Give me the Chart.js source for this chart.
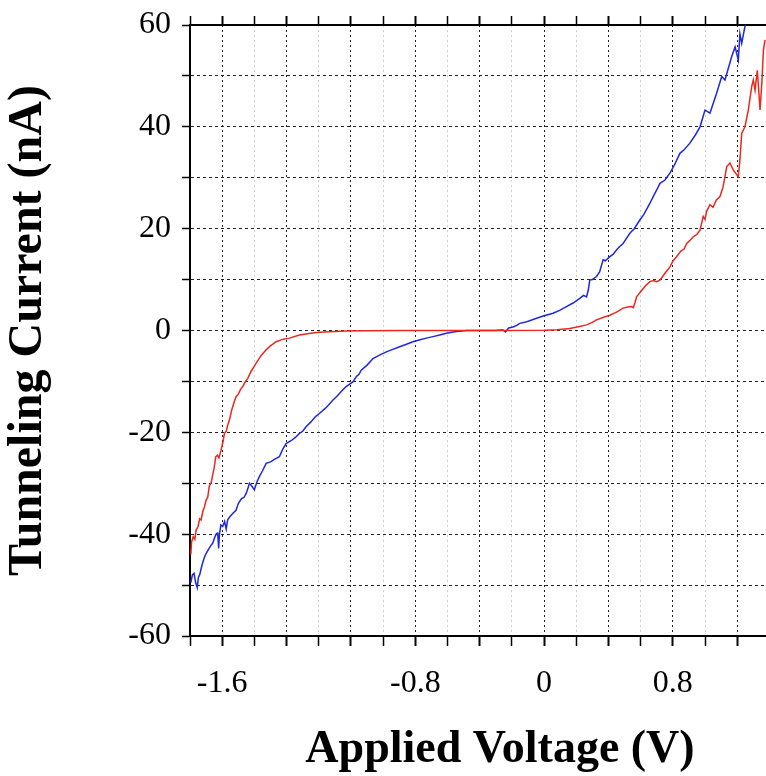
<!DOCTYPE html>
<html>
<head>
<meta charset="utf-8">
<script src="https://cdn.jsdelivr.net/npm/chart.js@4"></script>
<style>
  body { margin: 0; background: #fff; }
</style>
</head>
<body>
<canvas id="myChart" width="766" height="776"></canvas>
<script>
// Red sweep: voltage (V) and current (nA)
var redV = [-2.195, -2.19, -2.18, -2.17, -2.162, -2.15, -2.14, -2.131, -2.12, -2.11, -2.10, -2.09, -2.08, -2.069, -2.06, -2.05, -2.04, -2.03, -2.02, -2.007,
  -1.996, -1.986, -1.975, -1.965, -1.955, -1.94, -1.925, -1.914, -1.90, -1.885, -1.872, -1.855, -1.841, -1.82, -1.80, -1.789, -1.76, -1.727, -1.70, -1.665,
  -1.62, -1.582, -1.52, -1.45, -1.396, -1.30, -1.23, -1.10, -0.9, -0.3, 0.0, 0.08, 0.16, 0.22, 0.264, 0.30, 0.326, 0.37, 0.409, 0.45,
  0.491, 0.52, 0.544, 0.555, 0.565, 0.575, 0.60, 0.63, 0.658, 0.68, 0.70, 0.72, 0.75, 0.782, 0.80, 0.823, 0.85, 0.87, 0.886, 0.90,
  0.927, 0.95, 0.969, 0.989, 1.0, 1.01, 1.031, 1.05, 1.07, 1.093, 1.113, 1.135, 1.155, 1.176, 1.207, 1.217, 1.228, 1.248, 1.269, 1.29,
  1.30, 1.311, 1.325, 1.342, 1.353, 1.363, 1.373];
var redI = [-44, -41.5, -40.5, -41, -39.2, -38.5, -37.0, -37.2, -35.5, -34.6, -33.3, -32.8, -30.5, -30.0, -28.5, -27.0, -24.8, -24.5, -25.0, -23.5,
  -22.0, -20.2, -19.8, -18.5, -17.6, -15.5, -14.0, -13.0, -12.5, -11.5, -11.0, -10.0, -9.4, -8.0, -7.0, -6.4, -5.0, -3.8, -3.0, -2.2,
  -1.7, -1.5, -0.9, -0.55, -0.35, -0.18, -0.1, -0.04, 0, 0, 0.05, 0.15, 0.4, 0.8, 1.1, 1.6, 2.1, 2.6, 3.0, 3.6,
  4.4, 4.6, 4.7, 4.5, 5.5, 6.6, 7.6, 8.8, 9.6, 9.8, 9.6, 9.9, 11.2, 12.5, 13.6, 14.5, 15.6, 16.0, 17.1, 17.5,
  18.4, 18.9, 19.7, 22.4, 21.8, 23.4, 24.7, 24.2, 25.6, 26.3, 28.3, 32.2, 32.9, 31.5, 30.2, 33.5, 38.7, 40.0, 43.3, 47.9,
  49.2, 47.2, 51.1, 43.3, 48.6, 55.1, 57.1];

// Blue sweep: voltage (V) and current (nA)
var blueV = [-2.195, -2.185, -2.175, -2.165, -2.155, -2.148, -2.14, -2.125, -2.11, -2.10, -2.085, -2.07, -2.059, -2.045, -2.035, -2.028, -2.022, -2.017, -2.008, -1.997,
  -1.985, -1.975, -1.966, -1.95, -1.93, -1.914, -1.90, -1.88, -1.865, -1.851, -1.84, -1.831, -1.815, -1.80, -1.785, -1.769, -1.75, -1.727, -1.70, -1.67,
  -1.645, -1.625, -1.603, -1.57, -1.545, -1.52, -1.50, -1.479, -1.45, -1.42, -1.396, -1.36, -1.335, -1.313, -1.29, -1.26, -1.23, -1.21, -1.188, -1.165,
  -1.15, -1.136, -1.10, -1.063, -1.02, -0.98, -0.94, -0.897, -0.855, -0.815, -0.77, -0.732, -0.69, -0.649, -0.60, -0.545, -0.48, -0.4, -0.30, -0.27,
  -0.255, -0.24, -0.22, -0.193, -0.17, -0.151, -0.12, -0.09, -0.047, 0.0, 0.056, 0.10, 0.139, 0.18, 0.222, 0.245, 0.264, 0.275, 0.284, 0.30,
  0.326, 0.345, 0.367, 0.38, 0.409, 0.43, 0.45, 0.47, 0.491, 0.51, 0.533, 0.56, 0.595, 0.62, 0.658, 0.678, 0.70, 0.72, 0.75, 0.782,
  0.81, 0.844, 0.87, 0.906, 0.94, 0.969, 1.0, 1.031, 1.072, 1.104, 1.124, 1.145, 1.166, 1.187, 1.207, 1.217, 1.228, 1.248, 1.269, 1.29];
var blueI = [-49.5, -48.0, -47.7, -49.5, -50.5, -48.5, -48.0, -46.0, -44.5, -43.8, -43.0, -42.2, -41.8, -40.5, -39.9, -39.8, -42.8, -40.0, -38.2, -38.5,
  -37.5, -39.0, -37.2, -36.5, -35.8, -35.3, -34.0, -33.0, -32.8, -32.0, -31.0, -30.0, -30.6, -31.3, -29.8, -28.7, -27.6, -26.1, -25.8, -25.2,
  -24.8, -23.4, -22.2, -21.6, -21.0, -20.2, -19.8, -18.9, -18.0, -16.9, -16.3, -15.3, -14.5, -13.7, -13.0, -12.0, -11.0, -10.6, -10.1, -9.0,
  -8.6, -7.8, -6.8, -5.5, -4.8, -4.2, -3.7, -3.2, -2.7, -2.2, -1.8, -1.5, -1.2, -0.9, -0.5, -0.2, 0, 0, 0, 0.1,
  0.1, -0.3, 0.5, 0.7, 1.0, 1.4, 1.6, 1.9, 2.4, 2.9, 3.4, 4.0, 4.7, 5.4, 6.3, 6.9, 6.6, 8.0, 9.9, 10.0,
  10.6, 11.5, 13.9, 13.7, 14.5, 15.0, 15.8, 16.5, 17.1, 18.0, 19.1, 20.0, 21.7, 22.8, 25.0, 26.3, 27.6, 28.9, 29.5, 30.9,
  32.5, 34.8, 35.5, 36.8, 38.4, 40.0, 43.3, 42.7, 46.6, 49.9, 49.2, 51.5, 53.8, 55.7, 53.1, 58.3, 56.4, 59.7, 61, 63];

// Axis ticks and labels
var xTickValues = [-2.2, -2.0, -1.8, -1.6, -1.4, -1.2, -1.0, -0.8, -0.6, -0.4, -0.2, 0, 0.2, 0.4, 0.6, 0.8, 1.0, 1.2];
var xTickLabels = ['', '-1.6', '', '', '', '', '', '-0.8', '', '', '', '0', '', '', '', '0.8', '', ''];
var yTickLabels = ['-60', '', '-40', '', '-20', '', '0', '', '20', '', '40', '', '60'];
var xTitle = 'Applied Voltage (V)';
var yTitle = 'Tunneling Current (nA)';

function toPoints(xs, ys) {
    return xs.map(function (v, i) { return { x: v, y: ys[i] }; });
}

function isMajor(v) {
    var k = v / 0.4;
    return Math.abs(k - Math.round(k)) < 1e-6;
}

function setXTicks(scale) {
    scale.ticks = xTickValues.map(function (v) { return { value: v }; });
}

var serif = 'Liberation Serif';

// x-axis title drawn below the plot (offset to the right like the original)
var xTitlePlugin = {
    id: 'xTitle',
    afterDraw: function (chart) {
        var c = chart.ctx;
        c.save();
        c.font = 'bold 46px "' + serif + '"';
        c.fillStyle = '#000';
        c.textAlign = 'center';
        c.textBaseline = 'alphabetic';
        c.fillText(xTitle, 500, 762);
        c.restore();
    }
};

var ctx = document.getElementById('myChart').getContext('2d');
var myChart = new Chart(ctx, {
    type: 'line',
    data: {
        datasets: [{
            label: 'Sweep 1',
            data: toPoints(redV, redI),
            borderColor: 'rgb(235, 40, 30)',
            borderWidth: 1.5,
            pointRadius: 0,
            tension: 0
        },
        {
            label: 'Sweep 2',
            data: toPoints(blueV, blueI),
            borderColor: 'rgb(30, 40, 225)',
            borderWidth: 1.5,
            pointRadius: 0,
            tension: 0
        }]
    },
    options: {
        responsive: false,
        animation: false,
        devicePixelRatio: 1,
        layout: { padding: 0 },
        plugins: {
            legend: { display: false },
            tooltip: { enabled: false }
        },
        scales: {
            x: {
                type: 'linear',
                position: 'bottom',
                min: -2.2,
                max: 1.379,
                afterBuildTicks: setXTicks,
                afterFit: function (s) { s.height = 140; },
                grid: {
                    color: function (c) { return isMajor(c.tick.value) ? '#222' : '#cfcfcf'; },
                    lineWidth: 1,
                    tickLength: 10,
                    tickColor: '#000',
                    tickWidth: function (c) { return isMajor(c.tick.value) ? 2 : 1.5; }
                },
                border: { display: true, color: '#000', width: 2, dash: [2, 3] },
                ticks: {
                    autoSkip: false,
                    maxRotation: 0,
                    padding: 18,
                    color: '#000',
                    font: { family: serif, size: 32 },
                    callback: function (v, i) { return xTickLabels[i]; }
                }
            },
            x2: {
                type: 'linear',
                position: 'top',
                min: -2.2,
                max: 1.379,
                afterBuildTicks: setXTicks,
                afterFit: function (s) { s.height = 25; },
                grid: {
                    drawOnChartArea: false,
                    tickLength: 9,
                    tickColor: '#000',
                    tickWidth: function (c) { return isMajor(c.tick.value) ? 2 : 1.5; }
                },
                border: { display: true, color: '#000', width: 2 },
                ticks: { display: false }
            },
            y: {
                min: -60,
                max: 60,
                afterFit: function (s) {
                    s.width = 190;
                    s.paddingTop = 0;
                    s.paddingBottom = 0;
                },
                grid: {
                    color: '#222',
                    lineWidth: 1,
                    tickLength: 8,
                    tickColor: '#000',
                    tickWidth: 1.5
                },
                border: { display: true, color: '#000', width: 2, dash: [3, 3] },
                ticks: {
                    stepSize: 10,
                    autoSkip: false,
                    padding: 11,
                    color: '#000',
                    font: { family: serif, size: 32, lineHeight: 1 },
                    callback: function (v, i) { return yTickLabels[i]; }
                },
                title: {
                    display: true,
                    text: yTitle,
                    color: '#000',
                    padding: 0,
                    font: { family: serif, size: 48, weight: 'bold' }
                }
            }
        }
    },
    plugins: [xTitlePlugin]
});
</script>
</body>
</html>
